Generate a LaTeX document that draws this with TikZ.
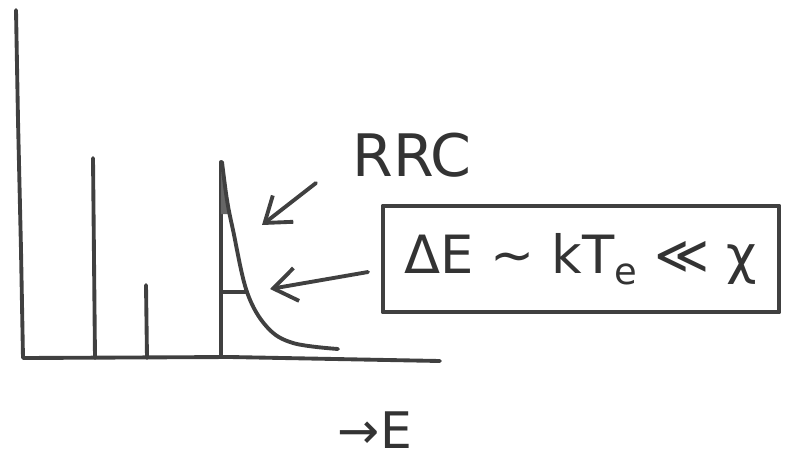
\documentclass[tikz,border=0pt]{standalone}
\usepackage{fontspec}
\newfontfamily\sketchfont{DejaVu Sans}
\usetikzlibrary{arrows.meta, positioning}
\tikzset{
  >={Straight Barb[length=7mm, width=10mm]},
  pen/.style     = {line width=3.3pt, black!75, line cap=round, line join=round},
  pointer/.style = {pen, ->},
  label/.style   = {font=\sketchfont\fontsize{50}{50}\selectfont, black!80, inner sep=0pt},
  cond/.style    = {draw, pen, minimum width=11.9cm, minimum height=3.2cm,
                    font=\sketchfont\fontsize{45}{45}\selectfont, text=black!80},
}

\begin{document}
\begin{tikzpicture}[x=0.03cm, y=-0.03cm]
  \useasboundingbox (0,0) rectangle (796,465);

  % axes
  \coordinate (ytop) at (16,10);
  \coordinate (o)    at (23,358);
  \coordinate (xend) at (440,361);
  \draw[pen] (ytop) -- (18,120) -- (21,250) -- (o) -- (230,357) -- (xend);

  % lines
  \coordinate (l1t) at (93,158);  \coordinate (l1b) at (95,358);
  \coordinate (l2t) at (146,285); \coordinate (l2b) at (147,358);
  \coordinate (l3t) at (221,162); \coordinate (l3b) at (221,357);
  \foreach \t/\b in {l1t/l1b, l2t/l2b, l3t/l3b}
    \draw[pen] (\t) -- (\b);

  % recombination edge
  \fill[black!60] (l3t) -- (221,214) -- (229,214) -- (225,180) -- cycle;
  \draw[pen] plot[smooth, tension=0.6] coordinates
    {(222,162) (227,200) (233,230) (247,292) (267,327) (293,343) (338,349)};
  \draw[pen] (221,292) -- (247,292);

  % labels
  \node[label] (rrc) at (412,155) {RRC};
  \node[cond]  (box) at (581,259) {ΔE ∼ kT\textsubscript{e} ≪ χ};
  \node[label, font=\sketchfont\fontsize{43}{43}\selectfont] (en) at (375,430) {→E};

  \coordinate (a1s) at (316,183); \coordinate (a1e) at (262,225);
  \coordinate (a2s) at (368,272); \coordinate (a2e) at (270,289);
  \draw[pointer] (a1s) -- (a1e);
  \draw[pointer] (a2s) -- (a2e);
\end{tikzpicture}
\end{document}
